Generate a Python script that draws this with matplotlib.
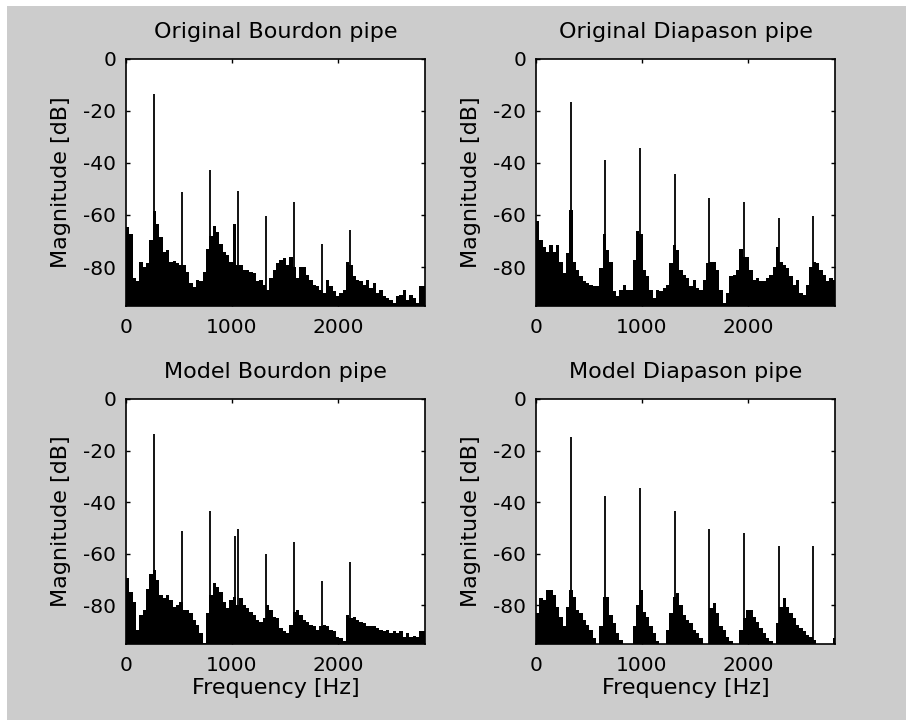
import matplotlib
matplotlib.use("Agg")
import matplotlib.pyplot as plt
import numpy as np
from matplotlib.patches import Rectangle

plt.rcParams["font.family"] = ["DejaVu Sans"]
plt.rcParams["axes.unicode_minus"] = False

BIN_HZ = 31.45
Y_FLOOR = -95

# broadband noise floor, one value per bin (dB)
ORIG_BOURDON_FLOOR = [
    -64.8, -67.3, -84.3, -85.5, -78.0, -79.9, -78.6, -69.8, -58.5, -63.5,
    -68.6, -74.2, -73.6, -78.0, -77.6, -78.6, -79.2, -79.2, -81.8, -86.2,
    -87.5, -84.9, -85.5, -81.8, -73.0, -67.9, -64.2, -66.7, -71.1, -74.2,
    -75.5, -78.0, -63.5, -79.2, -79.2, -81.1, -81.1, -81.8, -82.4, -85.5,
    -84.9, -86.8, -88.7, -84.3, -81.1, -78.6, -77.4, -76.7, -79.2, -76.1,
    -79.9, -84.3, -79.9, -79.9, -83.0, -84.9, -86.8, -87.4, -88.7, -89.9,
    -84.9, -87.4, -89.3, -91.2, -89.9, -88.7, -78.0, -79.2, -83.6, -84.9,
    -85.5, -86.8, -84.9, -88.1, -86.2, -89.9, -88.7, -91.2, -91.8, -92.5,
    -93.7, -91.2, -90.6, -88.7, -92.5, -90.6, -91.8, -93.7, -87.4, -87.4,
]
ORIG_DIAPASON_FLOOR = [
    -62.3, -69.8, -72.3, -74.2, -71.7, -74.2, -71.7, -78.0, -82.4, -74.8,
    -57.9, -78.0, -81.1, -83.6, -85.5, -86.2, -86.8, -87.4, -87.4, -80.5,
    -67.3, -73.6, -78.0, -89.3, -91.2, -88.7, -86.8, -88.7, -88.7, -77.4,
    -66.0, -67.3, -81.1, -83.6, -88.7, -91.8, -88.7, -89.3, -88.1, -86.8,
    -78.6, -71.7, -73.6, -81.1, -83.0, -84.3, -87.4, -84.9, -88.1, -88.7,
    -84.9, -78.6, -78.0, -78.0, -81.1, -88.7, -93.7, -89.9, -83.6, -83.0,
    -81.1, -73.0, -76.1, -76.1, -81.1, -84.9, -84.3, -85.5, -85.5, -84.3,
    -83.0, -79.9, -72.3, -78.0, -79.2, -80.5, -83.6, -86.8, -84.9, -89.9,
    -90.6, -86.8, -79.9, -78.0, -78.6, -81.1, -83.0, -85.5, -84.3, -84.9,
]
MODEL_BOURDON_FLOOR = [
    -69.6, -74.7, -78.6, -89.5, -83.7, -81.8, -73.5, -67.7, -66.4, -70.3,
    -76.0, -77.3, -76.0, -77.9, -80.5, -79.9, -78.6, -81.8, -81.8, -83.1,
    -85.6, -87.6, -90.8, -94.6, -83.1, -76.0, -71.5, -72.8, -74.7, -78.6,
    -81.2, -77.9, -76.7, -79.9, -77.3, -79.9, -81.2, -82.4, -83.7, -85.6,
    -86.3, -85.0, -79.9, -81.8, -84.4, -85.0, -88.8, -90.1, -90.8, -87.6,
    -82.4, -81.8, -83.7, -85.6, -86.3, -87.6, -88.2, -89.5, -88.2, -87.6,
    -88.2, -89.5, -90.1, -92.1, -92.7, -94.0, -83.7, -85.0, -84.4, -85.6,
    -86.3, -86.9, -88.2, -88.2, -88.2, -88.8, -89.5, -90.1, -89.5, -90.8,
    -90.1, -90.8, -90.1, -92.1, -90.8, -92.1, -91.8, -92.1, -90.1, -90.1,
]
MODEL_DIAPASON_FLOOR = [
    -83.1, -77.3, -77.9, -74.1, -74.1, -76.0, -80.5, -84.4, -88.2, -80.5,
    -74.1, -76.7, -81.8, -83.1, -85.6, -87.6, -89.5, -92.7, -95.0, -88.2,
    -76.7, -76.7, -83.7, -86.9, -90.8, -93.3, -95.0, -95.0, -95.0, -88.2,
    -79.9, -74.1, -82.4, -84.4, -88.2, -90.8, -94.0, -95.0, -95.0, -89.5,
    -83.1, -76.7, -75.4, -79.9, -83.7, -85.6, -86.9, -89.5, -90.8, -92.7,
    -95.0, -95.0, -81.2, -79.2, -83.1, -88.2, -89.5, -92.1, -94.0, -95.0,
    -95.0, -89.5, -85.0, -81.8, -81.8, -84.4, -86.3, -88.8, -90.8, -92.7,
    -94.0, -95.0, -86.9, -80.5, -77.3, -80.5, -83.1, -85.0, -87.6, -88.8,
    -90.1, -91.4, -92.1, -93.3, -95.0, -95.0, -95.0, -95.0, -95.0, -92.7,
]

# harmonic peaks
ORIG_BOURDON_PEAK_HZ = [264, 528, 792, 1056, 1320, 1584, 1848, 2112]
ORIG_BOURDON_PEAK_DB = [-13.5, -51.3, -42.7, -50.6, -60.4, -55.1, -71.2, -65.9]
ORIG_DIAPASON_PEAK_HZ = [327, 654, 981, 1308, 1635, 1962, 2289, 2616]
ORIG_DIAPASON_PEAK_DB = [-16.5, -38.8, -34.3, -44.2, -53.6, -55.1, -61.3, -60.5]
MODEL_BOURDON_PEAK_HZ = [264, 528, 792, 1030, 1056, 1320, 1584, 1848, 2112]
MODEL_BOURDON_PEAK_DB = [-13.6, -51.0, -43.3, -53.0, -50.3, -60.2, -55.5, -70.4, -63.3]
MODEL_DIAPASON_PEAK_HZ = [327, 654, 981, 1308, 1635, 1962, 2289, 2616]
MODEL_DIAPASON_PEAK_DB = [-14.6, -37.7, -34.6, -43.3, -50.3, -51.8, -57.1, -57.1]

TITLES = [
    "Original Bourdon pipe", "Original Diapason pipe",
    "Model Bourdon pipe", "Model Diapason pipe",
]
PANELS = [
    (ORIG_BOURDON_FLOOR, ORIG_BOURDON_PEAK_HZ, ORIG_BOURDON_PEAK_DB),
    (ORIG_DIAPASON_FLOOR, ORIG_DIAPASON_PEAK_HZ, ORIG_DIAPASON_PEAK_DB),
    (MODEL_BOURDON_FLOOR, MODEL_BOURDON_PEAK_HZ, MODEL_BOURDON_PEAK_DB),
    (MODEL_DIAPASON_FLOOR, MODEL_DIAPASON_PEAK_HZ, MODEL_DIAPASON_PEAK_DB),
]
X_TICKS = [0, 1000, 2000]
Y_TICKS = [-80, -60, -40, -20, 0]

W, H = 906, 720
AX_RECTS = [
    (126, 59, 425, 306), (536, 59, 835, 306),
    (126, 399, 425, 644), (536, 399, 835, 644),
]

fig = plt.figure(figsize=(W / 100, H / 100), dpi=100, facecolor="white")
fig.patches.append(Rectangle((7 / W, 0), 1, 1 - 6 / H, transform=fig.transFigure,
                             facecolor="#cccccc", edgecolor="none", zorder=-10))

for i, ((floor, peak_hz, peak_db), (x0, y0, x1, y1)) in enumerate(zip(PANELS, AX_RECTS)):
    ax = fig.add_axes([x0 / W, 1 - y1 / H, (x1 - x0) / W, (y1 - y0) / H])
    ax.set_facecolor("white")
    edges = np.arange(len(floor) + 1) * BIN_HZ
    ax.stairs(floor, edges, baseline=Y_FLOOR, fill=True, color="black", lw=0)
    ax.vlines(peak_hz, Y_FLOOR, peak_db, color="black", lw=1.3)
    ax.set_xlim(0, 2820)
    ax.set_ylim(Y_FLOOR, 0)
    ax.set_xticks(X_TICKS)
    ax.set_yticks(Y_TICKS)
    ax.tick_params(direction="in", length=3, width=1, top=True, right=True,
                   labelsize=14.5, colors="black")
    ax.tick_params(axis="x", pad=8.5)
    ax.tick_params(axis="y", pad=7)
    for spine in ax.spines.values():
        spine.set_linewidth(1.2)
        spine.set_color("black")
    ax.set_title(TITLES[i], fontsize=16, pad=15)
    ax.set_ylabel("Magnitude [dB]", fontsize=16, labelpad=9)
    if i >= 2:
        ax.set_xlabel("Frequency [Hz]", fontsize=16, labelpad=2)

fig.savefig("out.png", dpi=100, facecolor=fig.get_facecolor())
